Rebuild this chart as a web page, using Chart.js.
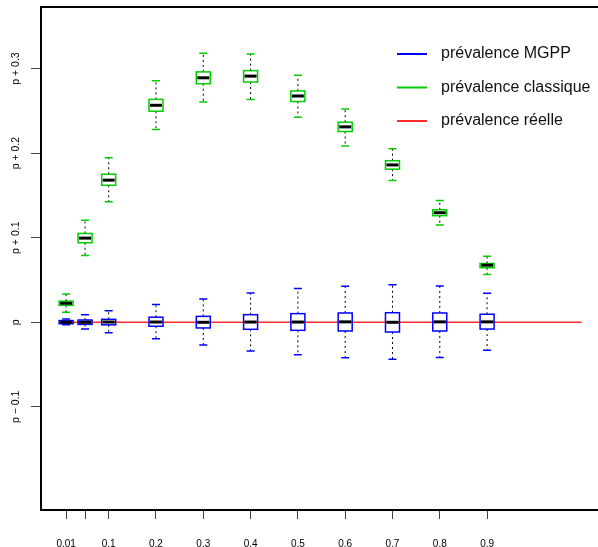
<!DOCTYPE html>
<html>
<head>
<meta charset="utf-8">
<script src="https://cdn.jsdelivr.net/npm/chart.js@4.4.1/dist/chart.umd.min.js"></script>
<style>
  html, body { margin: 0; padding: 0; background: #fff; overflow: hidden; }
  #chart { display: block; }
</style>
</head>
<body>
<canvas id="chart" width="598" height="547"></canvas>
<script>
// groupes (valeurs de p)
const pValues = [0.01, 0.05, 0.1, 0.2, 0.3, 0.4, 0.5, 0.6, 0.7, 0.8, 0.9];

// prévalence classique : écart à p (moustache basse, Q1, médiane, Q3, moustache haute)
const classLow  = [0.012, 0.079, 0.1425, 0.228, 0.2605, 0.2635, 0.2425, 0.2085, 0.1675, 0.115, 0.0565];
const classQ1   = [0.020, 0.094, 0.162, 0.2495, 0.282, 0.284, 0.261, 0.2255, 0.181, 0.126, 0.0645];
const classMed  = [0.0225, 0.0995, 0.168, 0.2565, 0.289, 0.291, 0.2675, 0.231, 0.186, 0.1295, 0.0675];
const classQ3   = [0.025, 0.105, 0.175, 0.2635, 0.296, 0.2975, 0.2735, 0.2365, 0.191, 0.133, 0.0695];
const classHigh = [0.0335, 0.1205, 0.1945, 0.2855, 0.318, 0.317, 0.292, 0.252, 0.205, 0.144, 0.078];

// prévalence MGPP : écart à p
const mgppLow  = [-0.003, -0.008, -0.0125, -0.0195, -0.027, -0.034, -0.0385, -0.042, -0.0437, -0.0415, -0.033];
const mgppQ1   = [-0.0017, -0.0025, -0.003, -0.0047, -0.0067, -0.0083, -0.0095, -0.0103, -0.0115, -0.0103, -0.008];
const mgppMed  = [0, 0, 0.0003, 0.0003, 0, 0.0003, 0.0003, 0.0005, 0, 0.0005, 0.0005];
const mgppQ3   = [0.002, 0.0027, 0.0035, 0.006, 0.007, 0.009, 0.0102, 0.011, 0.0113, 0.011, 0.0095];
const mgppHigh = [0.004, 0.009, 0.0135, 0.021, 0.0275, 0.0345, 0.040, 0.0425, 0.0445, 0.043, 0.0343];

// prévalence réelle (ligne de référence)
const realX = [0, 1.1];
const realY = [0, 0];

// axes
const xTickValues = [0.01, 0.05, 0.1, 0.2, 0.3, 0.4, 0.5, 0.6, 0.7, 0.8, 0.9];
const xTickLabels = ["0.01", "", "0.1", "0.2", "0.3", "0.4", "0.5", "0.6", "0.7", "0.8", "0.9"];
const yTickValues = [-0.1, 0, 0.1, 0.2, 0.3];
const yTickLabels = ["p \u2212 0.1", "p", "p + 0.1", "p + 0.2", "p + 0.3"];

const legendLabels = ["prévalence MGPP", "prévalence classique", "prévalence réelle"];
const legendColors = ["#0000ff", "#00cd00", "#ff2a2a"];

Chart.defaults.font.family = "'Liberation Sans', Arial, sans-serif";
Chart.defaults.color = "#000";

function drawBoxes(chart, low, q1, med, q3, high, color) {
  const ctx = chart.ctx;
  const xs = chart.scales.x, ys = chart.scales.y;
  const half = 7, cap = 4;
  pValues.forEach((p, i) => {
    const x = xs.getPixelForValue(p);
    const yLow = ys.getPixelForValue(low[i]);
    const yQ1 = ys.getPixelForValue(q1[i]);
    const yMed = ys.getPixelForValue(med[i]);
    const yQ3 = ys.getPixelForValue(q3[i]);
    const yHigh = ys.getPixelForValue(high[i]);
    // moustaches pointillées
    ctx.save();
    ctx.strokeStyle = "#000";
    ctx.lineWidth = 1;
    ctx.setLineDash([2, 3]);
    ctx.beginPath();
    ctx.moveTo(x, yQ3); ctx.lineTo(x, yHigh);
    ctx.moveTo(x, yQ1); ctx.lineTo(x, yLow);
    ctx.stroke();
    ctx.restore();
    // extrémités
    ctx.save();
    ctx.strokeStyle = color;
    ctx.lineWidth = 1.5;
    ctx.beginPath();
    ctx.moveTo(x - cap, yHigh); ctx.lineTo(x + cap, yHigh);
    ctx.moveTo(x - cap, yLow); ctx.lineTo(x + cap, yLow);
    ctx.stroke();
    // boîte
    ctx.strokeRect(x - half, yQ3, half * 2, yQ1 - yQ3);
    // médiane
    ctx.strokeStyle = "#000";
    ctx.lineWidth = 3;
    ctx.beginPath();
    ctx.moveTo(x - half + 1, yMed); ctx.lineTo(x + half - 1, yMed);
    ctx.stroke();
    ctx.restore();
  });
}

const boxPlugin = {
  id: "boxes",
  afterDatasetsDraw(chart) {
    drawBoxes(chart, classLow, classQ1, classMed, classQ3, classHigh, "#00cd00");
    drawBoxes(chart, mgppLow, mgppQ1, mgppMed, mgppQ3, mgppHigh, "#0000ff");
  },
  afterDraw(chart) {
    const ctx = chart.ctx;
    const area = chart.chartArea;
    // cadre haut
    ctx.save();
    ctx.strokeStyle = "#000";
    ctx.lineWidth = 2;
    ctx.beginPath();
    ctx.moveTo(area.left, area.top);
    ctx.lineTo(area.right, area.top);
    ctx.stroke();
    // étiquettes de l'axe y, verticales
    ctx.fillStyle = "#000";
    ctx.font = "10.5px 'Liberation Sans', Arial, sans-serif";
    ctx.textAlign = "center";
    ctx.textBaseline = "alphabetic";
    yTickValues.forEach((v, i) => {
      const y = chart.scales.y.getPixelForValue(v);
      ctx.save();
      ctx.translate(18.5, y);
      ctx.rotate(-Math.PI / 2);
      ctx.fillText(yTickLabels[i], 0, 0);
      ctx.restore();
    });
    // légende
    ctx.font = "16px 'Liberation Sans', Arial, sans-serif";
    ctx.textAlign = "left";
    ctx.textBaseline = "middle";
    ctx.fillStyle = "#111";
    legendLabels.forEach((lab, i) => {
      const y = 54 + i * 33.5;
      ctx.strokeStyle = legendColors[i];
      ctx.lineWidth = 2;
      ctx.beginPath();
      ctx.moveTo(397, y);
      ctx.lineTo(427, y);
      ctx.stroke();
      ctx.fillText(lab, 441, y);
    });
    ctx.restore();
  }
};

new Chart(document.getElementById("chart"), {
  type: "scatter",
  data: {
    datasets: [{
      label: "prévalence réelle",
      data: realX.map((x, i) => ({ x: x, y: realY[i] })),
      showLine: true,
      borderColor: "#ff2a2a",
      borderWidth: 1.5,
      pointRadius: 0
    }]
  },
  options: {
    responsive: false,
    animation: false,
    layout: { padding: { top: 7, right: 0, left: 0, bottom: 0 } },
    plugins: { legend: { display: false }, tooltip: { enabled: false } },
    scales: {
      x: {
        type: "linear",
        min: -0.0431,
        max: 1.1345,
        afterBuildTicks: s => { s.ticks = xTickValues.map(v => ({ value: v })); },
        afterFit: s => { s.height = 37; },
        ticks: {
          autoSkip: false,
          maxRotation: 0,
          minRotation: 0,
          padding: 19,
          font: { size: 10 },
          callback: (v, i) => xTickLabels[i]
        },
        grid: { drawOnChartArea: false, drawTicks: true, tickLength: 9, color: "#444" },
        border: { display: true, color: "#000", width: 2 }
      },
      y: {
        type: "linear",
        min: -0.2219,
        max: 0.3727,
        afterBuildTicks: s => { s.ticks = yTickValues.map(v => ({ value: v })); },
        afterFit: s => { s.width = 41; },
        ticks: { display: false },
        grid: { drawOnChartArea: false, drawTicks: true, tickLength: 10, color: "#444" },
        border: { display: true, color: "#000", width: 2 }
      }
    }
  },
  plugins: [boxPlugin]
});
</script>
</body>
</html>
